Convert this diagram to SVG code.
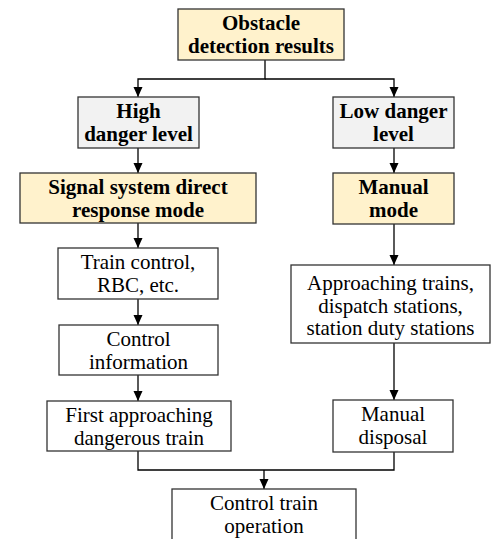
<svg xmlns="http://www.w3.org/2000/svg" width="491" height="539" viewBox="0 0 491 539">
<style>
.box{stroke:#333;stroke-width:1.3;fill:#fff}
.y{fill:#FFF2CC}
.g{fill:#F2F2F2}
.t{font-family:Liberation Serif,DejaVu Serif,serif;font-size:21px;text-anchor:middle;fill:#000}
.b{font-weight:bold}
.c{fill:none;stroke:#000;stroke-width:1.3}
</style>
<defs>
<marker id="ah" markerUnits="userSpaceOnUse" markerWidth="10" markerHeight="10" refX="10" refY="5" orient="auto">
<path d="M0,0.5 L10,5 L0,9.5 z" fill="#000"/>
</marker>
</defs>
<rect width="491" height="539" fill="#fff"/>
<g id="connectors">
<path class="c" d="M265 60 V79 H138 V97" marker-end="url(#ah)"/>
<path class="c" d="M265 79 H394 V97" marker-end="url(#ah)"/>
<path class="c" d="M138 148 V173" marker-end="url(#ah)"/>
<path class="c" d="M138 223 V248" marker-end="url(#ah)"/>
<path class="c" d="M138 299 V325" marker-end="url(#ah)"/>
<path class="c" d="M138 375 V401" marker-end="url(#ah)"/>
<path class="c" d="M138 451 V470 H394 V452"/>
<path class="c" d="M264 470 V489" marker-end="url(#ah)"/>
<path class="c" d="M394 148 V173" marker-end="url(#ah)"/>
<path class="c" d="M394 224 V265" marker-end="url(#ah)"/>
<path class="c" d="M394 343 V400" marker-end="url(#ah)"/>
</g>
<g id="obstacle">
<rect class="box y" x="178" y="9" width="166" height="51"/>
<text class="t b" x="261" y="29.5">Obstacle</text>
<text class="t b" x="261" y="53">detection results</text>
</g>
<g id="high">
<rect class="box g" x="78" y="97" width="121" height="51"/>
<text class="t b" x="138.5" y="118">High</text>
<text class="t b" x="138.5" y="141">danger level</text>
</g>
<g id="low">
<rect class="box g" x="333" y="97" width="121" height="51"/>
<text class="t b" x="393.5" y="118">Low danger</text>
<text class="t b" x="393.5" y="141">level</text>
</g>
<g id="signal">
<rect class="box y" x="20" y="173" width="236" height="50"/>
<text class="t b" x="138" y="193.5">Signal system direct</text>
<text class="t b" x="138" y="216.5">response mode</text>
</g>
<g id="manual-mode">
<rect class="box y" x="333" y="173" width="121" height="51"/>
<text class="t b" x="393.5" y="194">Manual</text>
<text class="t b" x="393.5" y="217">mode</text>
</g>
<g id="train-control">
<rect class="box" x="58" y="248" width="160" height="51"/>
<text class="t" x="138" y="269">Train control,</text>
<text class="t" x="138" y="292">RBC, etc.</text>
</g>
<g id="control-info">
<rect class="box" x="59" y="325" width="159" height="50"/>
<text class="t" x="138.5" y="345.5">Control</text>
<text class="t" x="138.5" y="368.5">information</text>
</g>
<g id="first-approaching">
<rect class="box" x="47" y="401" width="184" height="50"/>
<text class="t" x="139" y="421.5">First approaching</text>
<text class="t" x="139" y="444.5">dangerous train</text>
</g>
<g id="approaching">
<rect class="box" x="291" y="265" width="199" height="78"/>
<text class="t" x="390.5" y="290">Approaching trains,</text>
<text class="t" x="390.5" y="312.5">dispatch stations,</text>
<text class="t" x="390.5" y="335">station duty stations</text>
</g>
<g id="manual-disposal">
<rect class="box" x="333" y="400" width="120" height="52"/>
<text class="t" x="393" y="421">Manual</text>
<text class="t" x="393" y="444">disposal</text>
</g>
<g id="control-train">
<rect class="box" x="172" y="489" width="184" height="60"/>
<text class="t" x="264" y="510">Control train</text>
<text class="t" x="264" y="533">operation</text>
</g>
</svg>
